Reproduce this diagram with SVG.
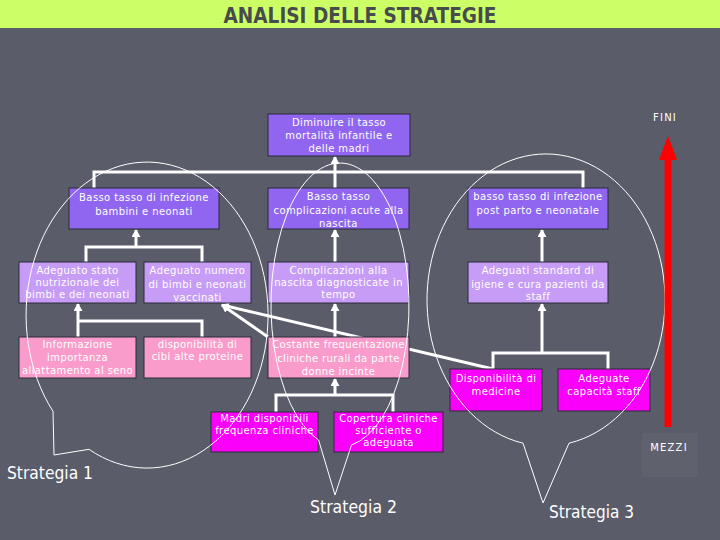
<svg xmlns="http://www.w3.org/2000/svg" width="720" height="540" viewBox="0 0 720 540">
<defs>
<style>
.box{stroke:#2b2b3b;stroke-width:1}
.l1{fill:#9066f0}
.l2{fill:#c79cf6}
.l3{fill:#fa9ccb}
.l4{fill:#fa00fa}
.t{font-family:"DejaVu Sans","Liberation Sans",sans-serif;font-size:10px;fill:#ffffff;text-anchor:middle;letter-spacing:0.4px}
.c{fill:none;stroke:#ffffff;stroke-width:3}
.s{fill:none;stroke:#ffffff;stroke-width:1}
.lbl{font-family:"DejaVu Sans","Liberation Sans",sans-serif;font-size:17px;fill:#ffffff}
.side{font-family:"DejaVu Sans","Liberation Sans",sans-serif;font-size:10px;fill:#ffffff;text-anchor:middle;letter-spacing:1.2px}
</style>
<marker id="ah" markerUnits="userSpaceOnUse" markerWidth="9" markerHeight="9" refX="7" refY="4.5" orient="auto">
<path d="M0,0 L8,4.5 L0,9 Z" fill="#ffffff"/>
</marker>
</defs>
<rect x="0" y="0" width="720" height="540" fill="#5a5c69"/>
<rect x="0" y="0" width="720" height="28" fill="#ccff66"/>
<text x="360" y="23" font-family="'DejaVu Sans','Liberation Sans',sans-serif" font-size="21" font-weight="bold" fill="#474b4e" text-anchor="middle" textLength="273" lengthAdjust="spacingAndGlyphs">ANALISI DELLE STRATEGIE</text>
<rect x="642" y="433" width="56" height="44" fill="#5f616d"/>

<g id="connectors">
<path class="c" d="M94,188 V172 H583 V188"/>
<path class="c" d="M335,188 V157" marker-end="url(#ah)"/>
<path class="c" d="M86,262 V247 H202 V262"/>
<path class="c" d="M136,247 V230" marker-end="url(#ah)"/>
<path class="c" d="M202,337 V321 H78"/>
<path class="c" d="M78,337 V304" marker-end="url(#ah)"/>
<path class="c" d="M335,262 V230" marker-end="url(#ah)"/>
<path class="c" d="M335,337 V304" marker-end="url(#ah)"/>
<path class="c" d="M276,412 V395 H393 V412"/>
<path class="c" d="M335,395 V379" marker-end="url(#ah)"/>
<path class="c" d="M542,262 V230" marker-end="url(#ah)"/>
<path class="c" d="M493,369 V353 H608 V369"/>
<path class="c" d="M542,353 V304" marker-end="url(#ah)"/>
<path class="c" d="M493,369 L222,305" marker-end="url(#ah)"/>
<path class="c" d="M268,337 L222,305" marker-end="url(#ah)"/>
</g>

<g id="n0"><rect class="box l1" x="268" y="114" width="142" height="42"/>
<text class="t" x="339" y="126">Diminuire il tasso</text>
<text class="t" x="339" y="139">mortalità infantile e</text>
<text class="t" x="339" y="152">delle madri</text></g>

<g id="n1"><rect class="box l1" x="69" y="188" width="150" height="41"/>
<text class="t" x="144" y="201">Basso tasso di infezione</text>
<text class="t" x="144" y="215">bambini e neonati</text></g>

<g id="n2"><rect class="box l1" x="268" y="188" width="141" height="41"/>
<text class="t" x="338.5" y="200">Basso tasso</text>
<text class="t" x="338.5" y="214">complicazioni acute alla</text>
<text class="t" x="338.5" y="227">nascita</text></g>

<g id="n3"><rect class="box l1" x="468" y="188" width="140" height="41"/>
<text class="t" x="538" y="200">basso tasso di infezione</text>
<text class="t" x="538" y="214">post parto e neonatale</text></g>

<g id="n4"><rect class="box l2" x="19" y="262" width="117" height="41"/>
<text class="t" x="77.5" y="274">Adeguato stato</text>
<text class="t" x="77.5" y="286">nutrizionale dei</text>
<text class="t" x="77.5" y="298">bimbi e dei neonati</text></g>

<g id="n5"><rect class="box l2" x="144" y="262" width="107" height="41"/>
<text class="t" x="197.5" y="274">Adeguato numero</text>
<text class="t" x="197.5" y="287.5">di bimbi e neonati</text>
<text class="t" x="197.5" y="301">vaccinati</text></g>

<g id="n6"><rect class="box l2" x="268" y="262" width="141" height="41"/>
<text class="t" x="338.5" y="274">Complicazioni alla</text>
<text class="t" x="338.5" y="286">nascita diagnosticate in</text>
<text class="t" x="338.5" y="298">tempo</text></g>

<g id="n7"><rect class="box l2" x="468" y="262" width="140" height="41"/>
<text class="t" x="538" y="274">Adeguati standard di</text>
<text class="t" x="538" y="288">igiene e cura pazienti da</text>
<text class="t" x="538" y="300">staff</text></g>

<g id="n8"><rect class="box l3" x="19" y="337" width="117" height="41"/>
<text class="t" x="77.5" y="348">Informazione</text>
<text class="t" x="77.5" y="361">importanza</text>
<text class="t" x="77.5" y="374">allattamento al seno</text></g>

<g id="n9"><rect class="box l3" x="144" y="337" width="107" height="41"/>
<text class="t" x="197.5" y="348">disponibilità di</text>
<text class="t" x="197.5" y="360">cibi alte proteine</text></g>

<g id="n10"><rect class="box l3" x="268" y="337" width="141" height="41"/>
<text class="t" x="338.5" y="348">Costante frequentazione</text>
<text class="t" x="338.5" y="362">cliniche rurali da parte</text>
<text class="t" x="338.5" y="375">donne incinte</text></g>

<g id="n11"><rect class="box l4" x="450" y="369" width="92" height="42"/>
<text class="t" x="496" y="382">Disponibilità di</text>
<text class="t" x="496" y="394.5">medicine</text></g>

<g id="n12"><rect class="box l4" x="558" y="369" width="92" height="42"/>
<text class="t" x="604" y="382">Adeguate</text>
<text class="t" x="604" y="394.5">capacità staff</text></g>

<g id="n13"><rect class="box l4" x="211" y="412" width="107" height="40"/>
<text class="t" x="264.5" y="422">Madri disponibili</text>
<text class="t" x="264.5" y="434">frequenza cliniche</text></g>

<g id="n14"><rect class="box l4" x="334" y="412" width="109" height="40"/>
<text class="t" x="388.5" y="422">Copertura cliniche</text>
<text class="t" x="388.5" y="434">sufficiente o</text>
<text class="t" x="388.5" y="445.5">adeguata</text></g>

<g id="strategie">
<path class="s" d="M53,411.3 L54,455 L89,449.3 A121,153 0 1 0 53,411.3 Z"/>
<path class="s" d="M318.6,440 L335,495 L351.5,445 A69,142 0 1 0 318.6,440 Z"/>
<path class="s" d="M523,443.2 L543,503 L569,443.2 A119,146 0 1 0 523,443.2 Z"/>
<text class="lbl" x="7" y="479" textLength="86" lengthAdjust="spacingAndGlyphs">Strategia 1</text>
<text class="lbl" x="310" y="513" textLength="87" lengthAdjust="spacingAndGlyphs">Strategia 2</text>
<text class="lbl" x="549" y="518" textLength="85" lengthAdjust="spacingAndGlyphs">Strategia 3</text>
</g>

<g id="asse">
<line x1="668" y1="427" x2="668" y2="158" stroke="#ff0000" stroke-width="7"/>
<polygon points="659,160 668,136 677,160" fill="#ff0000"/>
<text class="side" x="665" y="121">FINI</text>
<text class="side" x="669" y="451">MEZZI</text>
</g>
</svg>
